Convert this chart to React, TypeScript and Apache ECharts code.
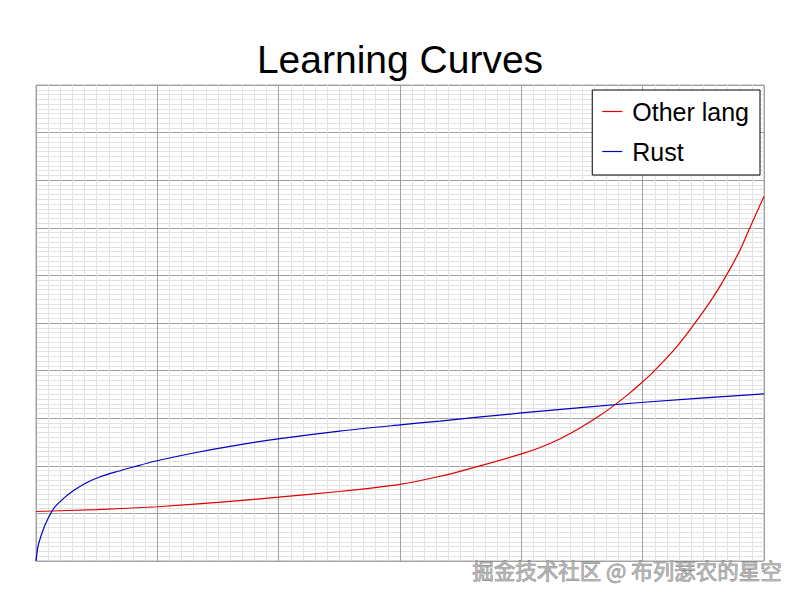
import React, { useEffect, useRef } from "react";
import * as echarts from "echarts";

const titleText = "Learning Curves";
const seriesNames = ["Other lang", "Rust"];
const otherLangX = [0, 0.5, 1, 1.5, 2, 2.5, 3, 3.33, 3.66, 4, 4.15, 4.32, 4.48, 4.65, 4.77, 4.87, 4.98, 5.09, 5.28, 5.42, 5.58, 5.69, 5.8, 5.88, 6];
const otherLangY = [1.04, 1.08, 1.14, 1.23, 1.34, 1.46, 1.61, 1.78, 2.0, 2.25, 2.38, 2.57, 2.79, 3.06, 3.28, 3.48, 3.72, 3.98, 4.5, 4.96, 5.54, 6.0, 6.52, 6.98, 7.66];
const rustX = [0, 0.016, 0.039, 0.08, 0.148, 0.23, 0.31, 0.42, 0.53, 0.67, 0.81, 0.97, 1.32, 1.6, 2.01, 2.5, 3, 3.33, 4, 4.98, 6];
const rustY = [0, 0.3, 0.51, 0.79, 1.11, 1.32, 1.48, 1.65, 1.77, 1.88, 1.98, 2.09, 2.28, 2.41, 2.57, 2.73, 2.86, 2.94, 3.11, 3.33, 3.51];
const watermark = "掘金技术社区 @ 布列瑟农的星空";

export default function App() {
  const ref = useRef<HTMLDivElement>(null);
  useEffect(() => {
    if (!ref.current) return;
    const chart = echarts.init(ref.current, null, { renderer: "svg" });
    const font = "'Liberation Sans', Arial, sans-serif";
    const axisCommon = {
      axisLine: { show: false },
      axisTick: { show: false },
      axisLabel: { show: false },
      splitLine: { show: true, lineStyle: { color: "#a0a0a0", width: 1 } },
      minorTick: { show: false, splitNumber: 10 },
      minorSplitLine: { show: true, lineStyle: { color: "#e3e3e3", width: 1 } },
    };
    chart.setOption({
      animation: false,
      backgroundColor: "#ffffff",
      title: {
        text: titleText,
        left: "center",
        top: 35,
        textStyle: { fontSize: 39, fontWeight: "normal", color: "#000", fontFamily: font },
      },
      legend: {
        orient: "vertical",
        right: 40,
        top: 90,
        data: seriesNames,
        icon: "rect",
        itemWidth: 20,
        itemHeight: 1.2,
        itemGap: 15,
        padding: [9, 11, 11, 10],
        borderColor: "#000",
        borderWidth: 1,
        borderRadius: 0,
        backgroundColor: "#fff",
        textStyle: { fontSize: 25, color: "#000", fontFamily: font, padding: [0, 0, 0, 5] },
      },
      grid: { left: 36, right: 36, top: 85, bottom: 39, show: true, borderColor: "#a8a8a8", borderWidth: 1 },
      xAxis: { type: "value", min: 0, max: 6, interval: 1, ...axisCommon },
      yAxis: { type: "value", min: 0, max: 10, interval: 1, ...axisCommon },
      series: [
        {
          name: seriesNames[0],
          type: "line",
          data: otherLangX.map((x, i) => [x, otherLangY[i]]),
          smooth: 0.25,
          showSymbol: false,
          symbol: "none",
          lineStyle: { color: "#e00000", width: 1.2 },
          itemStyle: { color: "#e00000" },
        },
        {
          name: seriesNames[1],
          type: "line",
          data: rustX.map((x, i) => [x, rustY[i]]),
          smooth: 0.25,
          showSymbol: false,
          symbol: "none",
          lineStyle: { color: "#0000c0", width: 1.2 },
          itemStyle: { color: "#0000c0" },
        },
      ],
      graphic: [
        {
          type: "text",
          right: 18,
          top: 558,
          z: 100,
          style: {
            text: watermark,
            fontSize: 21.5,
            fontFamily: "'Noto Sans CJK SC', sans-serif",
            fill: "#b4b4b4",
            stroke: "#6a6a6a",
            lineWidth: 0.6,
          },
        },
      ],
    });
    return () => chart.dispose();
  }, []);
  return <div ref={ref} style={{ width: 800, height: 600, position: "absolute", left: 0, top: 0 }} />;
}
